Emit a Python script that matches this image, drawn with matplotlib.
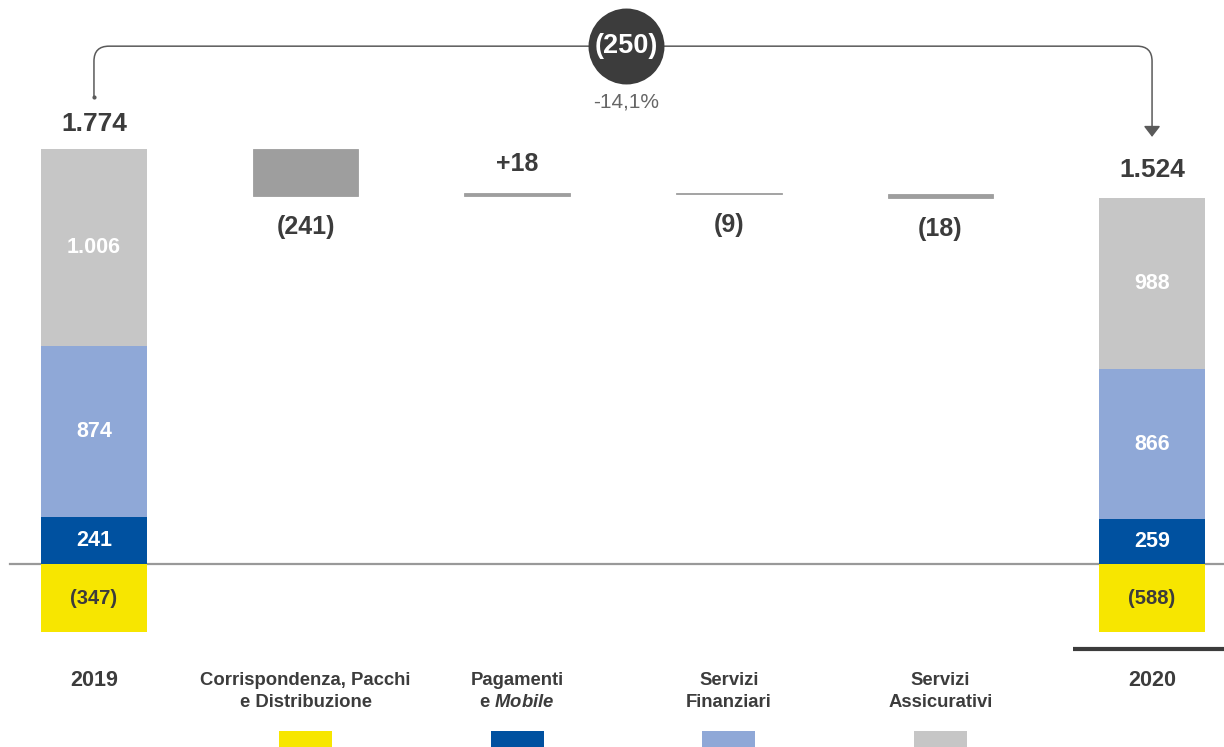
import matplotlib as mpl
mpl.use('Agg')
import matplotlib.pyplot as plt
from matplotlib.patches import FancyArrowPatch, Rectangle
from matplotlib.transforms import blended_transform_factory

plt.rcParams['font.family'] = ['Liberation Sans', 'DejaVu Sans']
plt.rcParams['mathtext.fontset'] = 'custom'
plt.rcParams['mathtext.it'] = 'Liberation Sans:bold:italic'
plt.rcParams['mathtext.rm'] = 'Liberation Sans:bold'

# dati (milioni di euro)
anni = ["2019", "2020"]
totali = [1774, 1524]
corrispondenza = [-347, -588]
pagamenti = [241, 259]
finanziari = [874, 866]
assicurativi = [1006, 988]

segmenti = ["Corrispondenza, Pacchi\ne Distribuzione", "Pagamenti\ne $Mobile$",
            "Servizi\nFinanziari", "Servizi\nAssicurativi"]
variazioni = [-241, 18, -9, -18]
var_totale = -250
var_perc = "-14,1%"

GIALLO = "#F7E600"
BLU = "#0051A0"
AZZURRO = "#8FA8D7"
GRIGIO = "#C6C6C6"
GRIGIO_VAR = "#9E9E9E"
TESTO = "#3C3C3C"


def fmt(v):
    s = f"{abs(v):,}".replace(",", ".")
    return f"({s})" if v < 0 else s


fig = plt.figure(figsize=(12.24, 7.47), dpi=100)
ax = fig.add_axes([0, 0, 1, 1])
ax.set_xlim(-0.444, 5.340)
ax.set_ylim(-935, 2883)
ax.axis('off')

xs = list(range(6))
w = 0.5
x_anni = [xs[0], xs[-1]]

# barre impilate 2019: scala reale
start = pagamenti[0] + finanziari[0] + assicurativi[0]
end = start + sum(variazioni)
# il 2020 viene disegnato in modo che la cima coincida con la fine del ponte
scale = [1.0, end / (pagamenti[1] + finanziari[1] + assicurativi[1])]
neg_depth = min(abs(v) for v in corrispondenza)

for i, x in enumerate(x_anni):
    bottom = 0
    for vals, col in [(pagamenti, BLU), (finanziari, AZZURRO), (assicurativi, GRIGIO)]:
        h = vals[i] * scale[i]
        ax.bar(x, h, bottom=bottom, width=w, color=col, linewidth=0)
        ax.text(x, bottom + h / 2, fmt(vals[i]), ha='center', va='center',
                color='white', fontsize=15.5, fontweight='bold')
        bottom += h
    ax.bar(x, -neg_depth, bottom=0, width=w, color=GIALLO, linewidth=0)
    ax.text(x, -neg_depth / 2, fmt(corrispondenza[i]), ha='center', va='center',
            color=TESTO, fontsize=14.5, fontweight='bold')
    off = 18 if i == 0 else 20
    ax.annotate(fmt(totali[i]), (x, bottom), xytext=(0, off), textcoords='offset points',
                ha='center', va='center', color=TESTO, fontsize=19, fontweight='bold')

# barre di variazione
level = start
for x, v in zip(xs[1:5], variazioni):
    ax.bar(x, v, bottom=level, width=w, color=GRIGIO_VAR, edgecolor=GRIGIO_VAR, linewidth=0.6)
    if v < 0:
        ax.annotate(fmt(v), (x, level + v), xytext=(0, -22), textcoords='offset points',
                    ha='center', va='center', color=TESTO, fontsize=18, fontweight='bold')
    else:
        ax.annotate(f"+{v}", (x, level + v), xytext=(0, 21), textcoords='offset points',
                    ha='center', va='center', color=TESTO, fontsize=18, fontweight='bold')
    level += v

# linea di base
ax.axhline(0, xmin=10 / 1224, xmax=1, color="#999999", lw=1.6, zorder=0.5)

# linea sotto il 2020
tr = blended_transform_factory(ax.transData, ax.transAxes)
ax.plot([xs[-1] - 0.373, 5.34], [0.131, 0.131], transform=tr, color=TESTO, lw=3, solid_capstyle='butt')

# ponte sopra le barre
bridge = start * 1.248


def px(y0, y1):
    a = ax.transData.transform((0, y0))[1]
    b = ax.transData.transform((0, y1))[1]
    return b - a


armA = px(start, bridge)
armB = px(end, bridge)
arrow = FancyArrowPatch((x_anni[0], start), (x_anni[1], end),
                        connectionstyle=f"arc,angleA=90,angleB=90,armA={armA},armB={armB},rad=15",
                        arrowstyle="-|>,head_length=0.65,head_width=0.5", mutation_scale=10,
                        shrinkA=37.5, shrinkB=44, color="#5A5A5A", lw=1.1)
ax.add_patch(arrow)
ax.plot(x_anni[0], start + (bridge - start) * (52 / 103), 'o', ms=2, color="#5A5A5A")

mid = 2.514
ax.scatter([mid], [bridge], s=2990, color=TESTO, zorder=5, linewidths=0)
ax.text(mid, bridge, fmt(var_totale), ha='center', va='center', color='white',
        fontsize=19.5, fontweight='bold', zorder=6)
ax.annotate(var_perc, (mid, bridge), xytext=(0, -40), textcoords='offset points',
            ha='center', va='center', color="#666666", fontsize=15)

# etichette asse x
for x, a in zip(x_anni, anni):
    ax.text(x, 1 - 681 / 747, a, transform=tr, ha='center', va='center',
            color=TESTO, fontsize=15.5, fontweight='bold')
for x, s, col in zip(xs[1:5], segmenti, [GIALLO, BLU, AZZURRO, GRIGIO]):
    ax.text(x, 1 - 672 / 747, s, transform=tr, ha='center', va='top',
            color=TESTO, fontsize=13.3, fontweight='bold', linespacing=1.35)
    ax.add_patch(Rectangle((x - 0.125, 0), 0.25, 16 / 747, transform=tr,
                           color=col, linewidth=0))

fig.savefig("out.png", dpi=100)
